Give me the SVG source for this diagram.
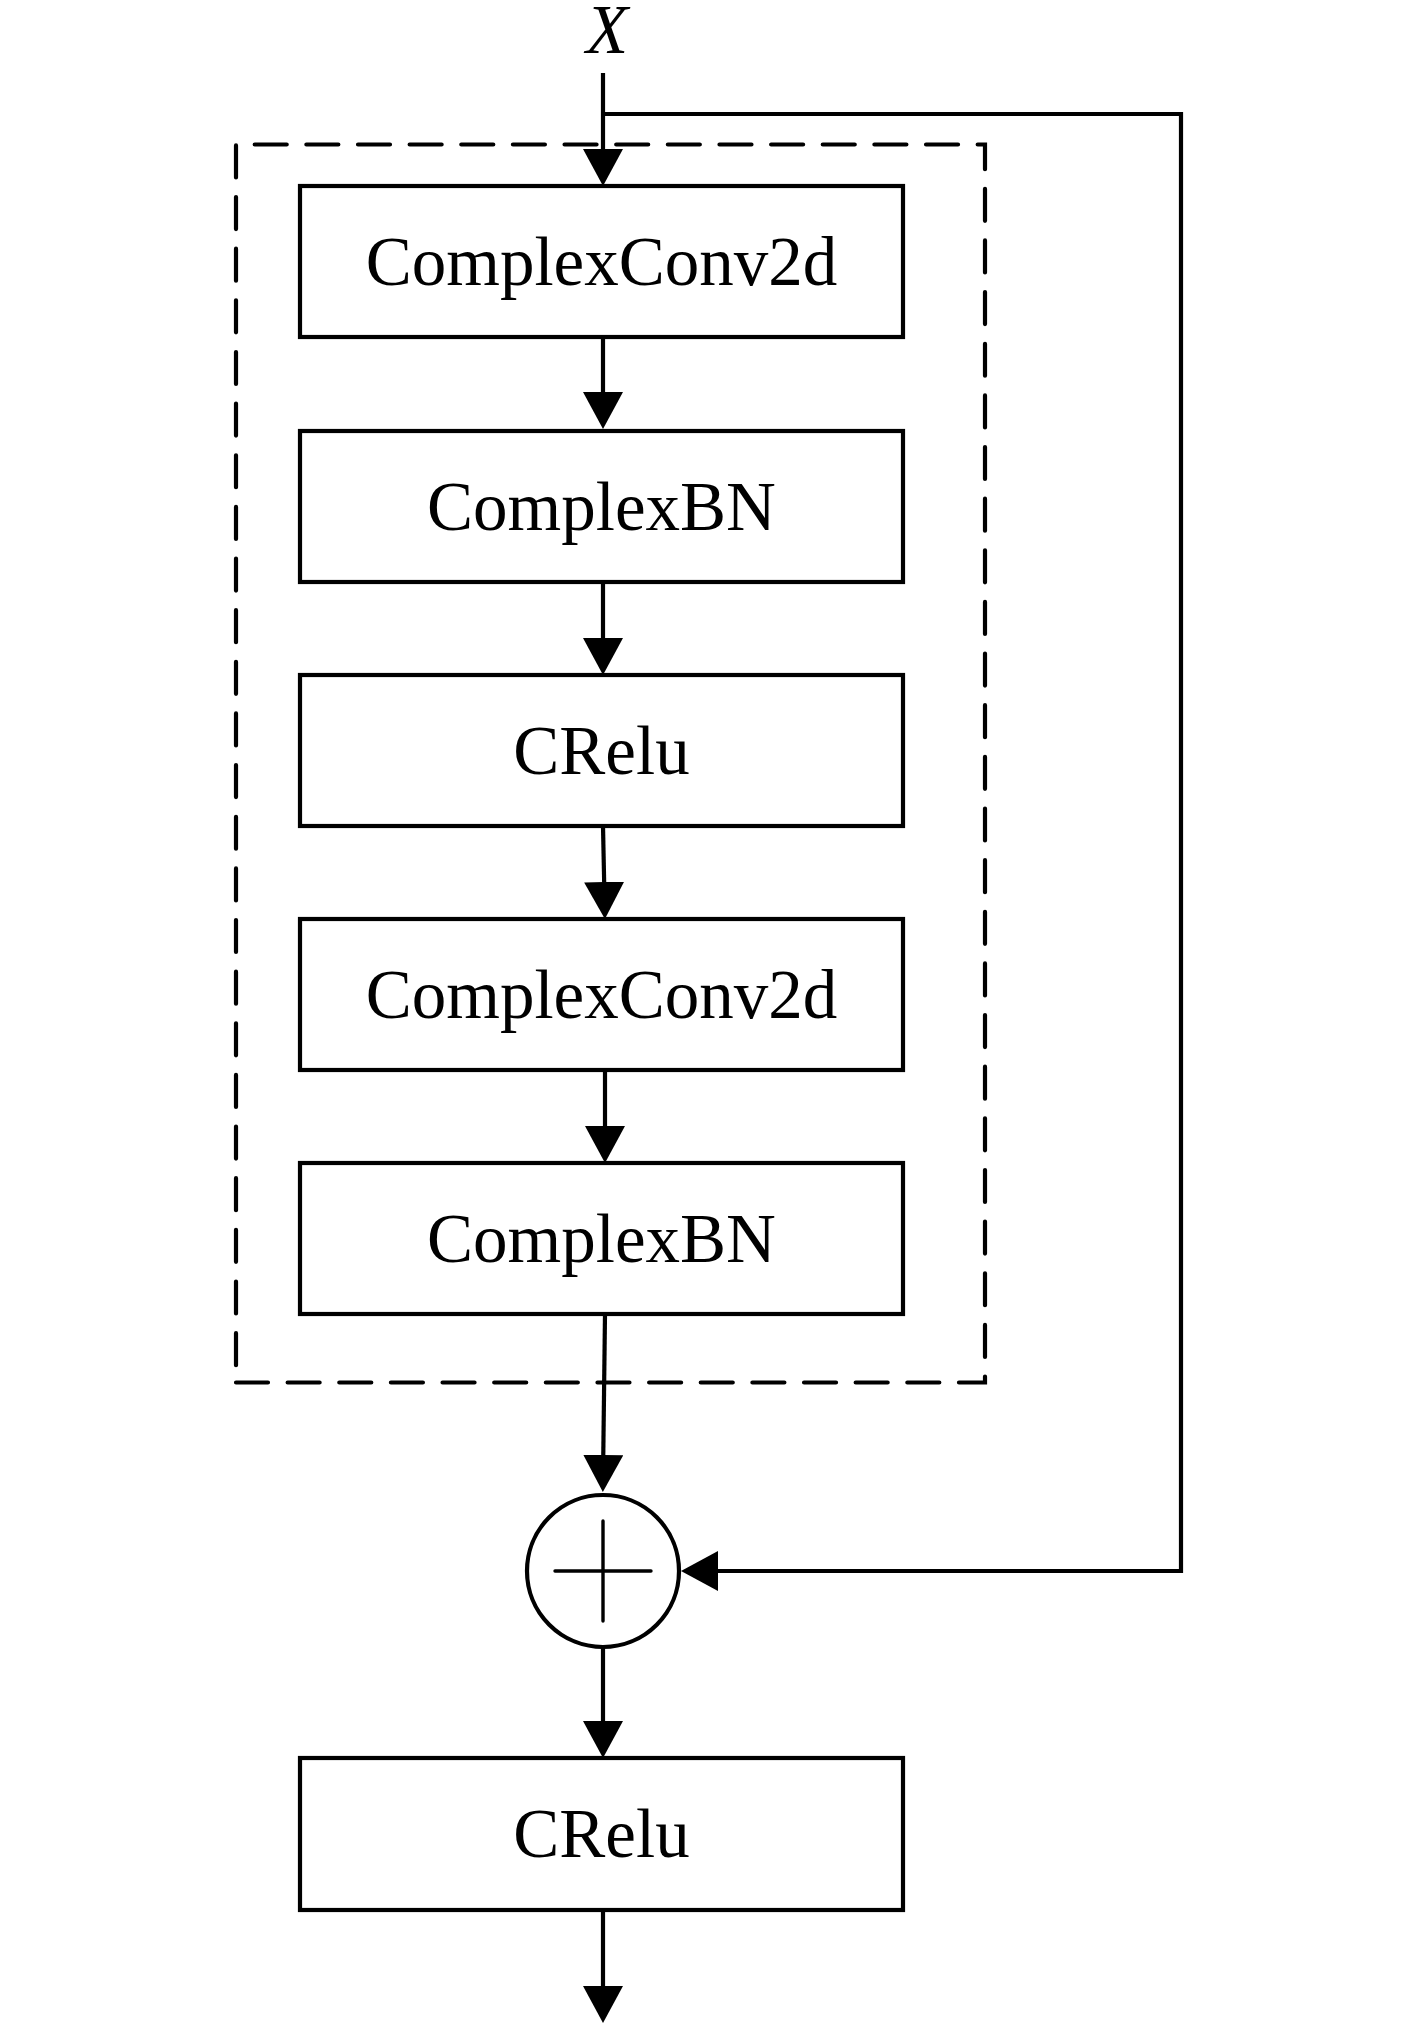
<svg xmlns="http://www.w3.org/2000/svg" width="1417" height="2031" viewBox="0 0 1417 2031">
<style>
.box{fill:#fff;stroke:#000;stroke-width:4.2}
.lbl{font-family:"Liberation Serif","Times New Roman",serif;font-size:69px;fill:#000;text-anchor:middle}
.conn{fill:none;stroke:#000;stroke-width:4.2;stroke-linejoin:miter}
.dash{fill:none;stroke:#000;stroke-width:4.2;stroke-dasharray:32 19.64;stroke-linecap:round}
</style>
<defs>
<marker id="ah" viewBox="0 0 37 40" refX="7" refY="20" markerWidth="37" markerHeight="40" markerUnits="userSpaceOnUse" orient="auto">
<path d="M0,0 L37,20 L0,40 Z" fill="#000"/>
</marker>
</defs>
<rect width="1417" height="2031" fill="#fff"/>
<g id="group-box">
<path class="dash" d="M236,1382.5 H985 V144.5 H236 Z"/>
</g>
<text id="input-label" x="607" y="53" class="lbl" style="font-style:italic;font-size:69px">X</text>
<g id="n1"><rect class="box" x="300" y="186" width="603" height="151"/><text class="lbl" x="601.5" y="285">ComplexConv2d</text></g>
<g id="n2"><rect class="box" x="300" y="431" width="603" height="151"/><text class="lbl" x="601.5" y="530">ComplexBN</text></g>
<g id="n3"><rect class="box" x="300" y="675" width="603" height="151"/><text class="lbl" x="601.5" y="774">CRelu</text></g>
<g id="n4"><rect class="box" x="300" y="919" width="603" height="151"/><text class="lbl" x="601.5" y="1018">ComplexConv2d</text></g>
<g id="n5"><rect class="box" x="300" y="1163" width="603" height="151"/><text class="lbl" x="601.5" y="1262">ComplexBN</text></g>
<g id="sum">
<circle cx="603" cy="1571" r="76" fill="#fff" stroke="#000" stroke-width="4.2"/>
<path d="M555,1571 H651 M603,1521 V1621" stroke="#000" stroke-width="3.4" fill="none" stroke-linecap="round"/>
</g>
<g id="n6"><rect class="box" x="300" y="1758" width="603" height="152"/><text class="lbl" x="601.5" y="1857">CRelu</text></g>
<g id="connectors">
<path class="conn" d="M603,73 V156" marker-end="url(#ah)"/>
<path class="conn" d="M603,337 V399" marker-end="url(#ah)"/>
<path class="conn" d="M603,582 V645" marker-end="url(#ah)"/>
<path class="conn" d="M603,826 L604.3,889" marker-end="url(#ah)"/>
<path class="conn" d="M605,1070 V1133" marker-end="url(#ah)"/>
<path class="conn" d="M605,1314 L603.2,1462" marker-end="url(#ah)"/>
<path class="conn" d="M603,1647 V1728" marker-end="url(#ah)"/>
<path class="conn" d="M603,1910 V1993" marker-end="url(#ah)"/>
<path class="conn" d="M603,114 H1181 V1571 H711" marker-end="url(#ah)"/>
</g>
</svg>
